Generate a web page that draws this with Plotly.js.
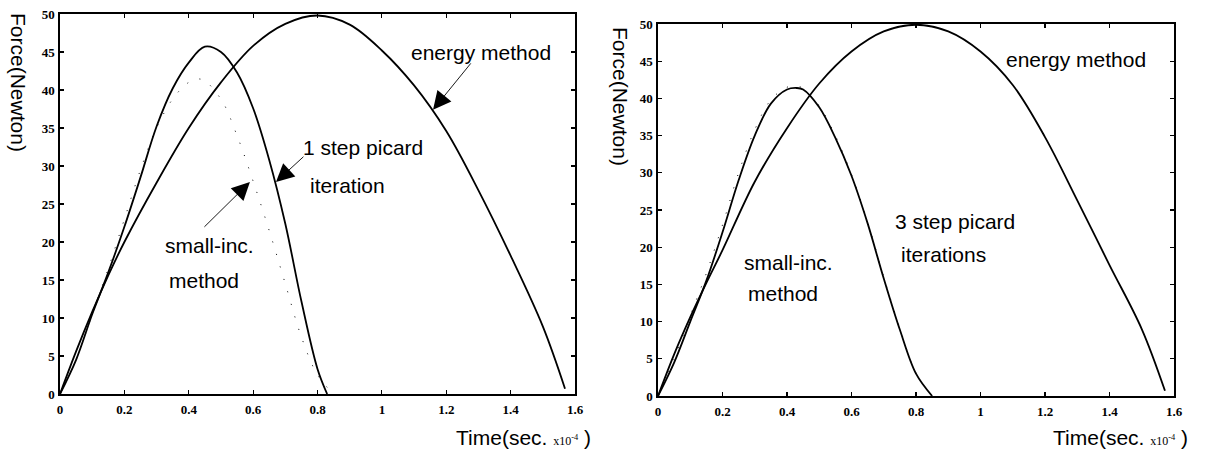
<!DOCTYPE html>
<html>
<head>
<meta charset="utf-8">
<script src="https://cdn.plot.ly/plotly-3.0.1.min.js"></script>
<style>html,body{margin:0;padding:0;background:#fff;}#chart{width:1214px;height:454px;}</style>
</head>
<body>
<div id="chart"></div>
<script>
// ---- Left panel (1 step picard iteration) ----
var leftEnergyT = [0, 0.05, 0.1, 0.15, 0.2, 0.3, 0.4, 0.5, 0.6, 0.7, 0.8, 0.9, 1.0, 1.1, 1.2, 1.3, 1.4, 1.5, 1.569];
var leftEnergyF = [0, 5.6, 10.8, 15.6, 20, 27.8, 35, 41, 45.8, 48.7, 49.8, 48.6, 45.2, 40.6, 34.6, 26.8, 18.2, 8.9, 0.7];
var leftPicardT = [0, 0.05, 0.1, 0.15, 0.2, 0.25, 0.3, 0.35, 0.4, 0.45, 0.5, 0.55, 0.6, 0.65, 0.7, 0.75, 0.8, 0.83];
var leftPicardF = [0, 4.5, 10.5, 16, 22, 28.5, 35.2, 40.2, 43.6, 45.7, 45.0, 42.3, 37.6, 30.8, 22.4, 12.2, 3.3, 0];
var leftSmallT = [0, 0.05, 0.1, 0.15, 0.2, 0.25, 0.3, 0.35, 0.4, 0.44, 0.5, 0.55, 0.6, 0.65, 0.7, 0.75, 0.8, 0.85];
var leftSmallF = [0, 4.5, 10.5, 16.5, 23, 29.5, 35, 38.8, 41, 41.4, 38.8, 34, 28, 21.5, 14.5, 7.5, 2.5, 0];

// ---- Right panel (3 step picard iterations) ----
var rightEnergyT = [0, 0.05, 0.1, 0.15, 0.2, 0.3, 0.4, 0.5, 0.6, 0.7, 0.8, 0.9, 1.0, 1.1, 1.2, 1.3, 1.4, 1.5, 1.572];
var rightEnergyF = [0, 5.6, 10.6, 15.2, 19.6, 28.8, 36, 42, 46.3, 49, 49.9, 49.0, 46.3, 41.8, 34.8, 26.3, 17.6, 9.0, 0.7];
var rightPicardT = [0, 0.05, 0.1, 0.15, 0.2, 0.25, 0.3, 0.35, 0.4, 0.43, 0.45, 0.5, 0.55, 0.6, 0.65, 0.7, 0.75, 0.8, 0.85];
var rightPicardF = [0, 4.5, 10, 15.5, 22, 29, 35, 39.3, 41.2, 41.4, 41.2, 38.8, 34.7, 29.6, 23.2, 15.8, 8.9, 3, 0];
var rightSmallT = [0, 0.05, 0.1, 0.15, 0.2, 0.25, 0.3, 0.35, 0.4, 0.43, 0.45, 0.5, 0.55, 0.6, 0.65, 0.7, 0.75, 0.8, 0.85];
var rightSmallF = [0, 5, 10.8, 16.5, 23, 30, 35.8, 39.8, 41.5, 41.6, 41.4, 39, 35, 29.8, 23.4, 16, 9.1, 3.1, 0];

// ---- Axis ticks ----
var xTickVals = [0, 0.2, 0.4, 0.6, 0.8, 1, 1.2, 1.4, 1.6];
var xTickText = ["0", "0.2", "0.4", "0.6", "0.8", "1", "1.2", "1.4", "1.6"];
var yTickVals = [0, 5, 10, 15, 20, 25, 30, 35, 40, 45, 50];
var yTickText = ["0", "5", "10", "15", "20", "25", "30", "35", "40", "45", "50"];

// ---- Texts ----
var yTitle = "Force(Newton)";
var xTitle = "Time(sec. <span style='font-family:Liberation Serif;font-size:12px'>x10<sup>-4</sup></span> )";

var solid = {color: "#000", width: 1.8, shape: "spline", smoothing: 1};
var dotted = {color: "#000", width: 1, dash: "1px,12px", shape: "spline", smoothing: 1};

var traces = [
  {x: leftSmallT, y: leftSmallF, xaxis: "x", yaxis: "y", mode: "lines", line: dotted, name: "small-inc. method"},
  {x: leftEnergyT, y: leftEnergyF, xaxis: "x", yaxis: "y", mode: "lines", line: solid, name: "energy method"},
  {x: leftPicardT, y: leftPicardF, xaxis: "x", yaxis: "y", mode: "lines", line: solid, name: "1 step picard iteration"},
  {x: rightSmallT, y: rightSmallF, xaxis: "x2", yaxis: "y2", mode: "lines", line: dotted, name: "small-inc. method"},
  {x: rightEnergyT, y: rightEnergyF, xaxis: "x2", yaxis: "y2", mode: "lines", line: solid, name: "energy method"},
  {x: rightPicardT, y: rightPicardF, xaxis: "x2", yaxis: "y2", mode: "lines", line: solid, name: "3 step picard iterations"}
];

var tickFont = {family: "Liberation Serif", size: 13, color: "#000", weight: "bold"};
function xAx(domain, anchor) {
  return {domain: domain, anchor: anchor, range: [0, 1.6], tickmode: "array", tickvals: xTickVals, ticktext: xTickText,
    ticks: "inside", ticklen: 4, tickwidth: 1.2, tickcolor: "#000", showline: true, linecolor: "#000", linewidth: 1.6,
    mirror: "ticks", showgrid: false, zeroline: false, tickfont: tickFont, ticklabelstandoff: 3, fixedrange: true};
}
function yAx(domain, anchor) {
  return {domain: domain, anchor: anchor, range: [0, 50], tickmode: "array", tickvals: yTickVals, ticktext: yTickText,
    ticks: "inside", ticklen: 4, tickwidth: 1.2, tickcolor: "#000", showline: true, linecolor: "#000", linewidth: 1.6,
    mirror: "ticks", showgrid: false, zeroline: false, tickfont: tickFont, ticklabelstandoff: 1, fixedrange: true};
}

var labelFont = {family: "Liberation Sans, Arial", size: 21, color: "#000"};
function label(xref, yref, x, y, text) {
  return {xref: xref, yref: yref, x: x, y: y, text: text, showarrow: false, xanchor: "center", yanchor: "middle", font: labelFont};
}
function arrow(xref, yref, x, y, ax, ay) {
  return {xref: xref, yref: yref, axref: xref, ayref: yref, x: x, y: y, ax: ax, ay: ay, text: "", showarrow: true,
    arrowhead: 2, arrowsize: 4, arrowwidth: 0.9, arrowcolor: "#000", standoff: 0, startstandoff: 0};
}

var annotations = [
  label("x", "y", 1.309, 44.9, "energy method"),
  label("x", "y", 0.94, 32.5, "1 step picard"),
  label("x", "y", 0.892, 27.5, "iteration"),
  label("x", "y", 0.466, 19.6, "small-inc."),
  label("x", "y", 0.447, 14.9, "method"),
  arrow("x", "y", 1.159, 37.4, 1.28, 43.7),
  arrow("x", "y", 0.671, 27.9, 0.761, 31.4),
  arrow("x", "y", 0.59, 27.9, 0.444, 21.8),
  label("x2", "y2", 1.295, 45.2, "energy method"),
  label("x2", "y2", 0.922, 23.4, "3 step picard"),
  label("x2", "y2", 0.884, 19.0, "iterations"),
  label("x2", "y2", 0.406, 18.0, "small-inc."),
  label("x2", "y2", 0.389, 13.8, "method"),
  {xref: "paper", yref: "paper", x: 18 / 1214, y: 1 - 82 / 454, text: yTitle, textangle: 90, showarrow: false,
   xanchor: "center", yanchor: "middle", font: {family: "Liberation Sans, Arial", size: 21, color: "#000"}},
  {xref: "paper", yref: "paper", x: 620 / 1214, y: 1 - 96 / 454, text: yTitle, textangle: 90, showarrow: false,
   xanchor: "center", yanchor: "middle", font: {family: "Liberation Sans, Arial", size: 21, color: "#000"}},
  {xref: "paper", yref: "paper", x: 523 / 1214, y: 1 - 437 / 454, text: xTitle, showarrow: false,
   xanchor: "center", yanchor: "middle", font: {family: "Liberation Sans, Arial", size: 21, color: "#000"}},
  {xref: "paper", yref: "paper", x: 1120 / 1214, y: 1 - 437 / 454, text: xTitle, showarrow: false,
   xanchor: "center", yanchor: "middle", font: {family: "Liberation Sans, Arial", size: 21, color: "#000"}}
];

var layout = {
  width: 1214, height: 454,
  margin: {l: 0, r: 0, t: 0, b: 0},
  paper_bgcolor: "#fff", plot_bgcolor: "#fff",
  showlegend: false,
  xaxis: xAx([60 / 1214, 575 / 1214], "y"),
  yaxis: yAx([(454 - 394) / 454, (454 - 14) / 454], "x"),
  xaxis2: xAx([658 / 1214, 1174 / 1214], "y2"),
  yaxis2: yAx([(454 - 396) / 454, (454 - 24) / 454], "x2"),
  annotations: annotations
};

Plotly.newPlot("chart", traces, layout, {staticPlot: true, displayModeBar: false});
</script>
</body>
</html>
